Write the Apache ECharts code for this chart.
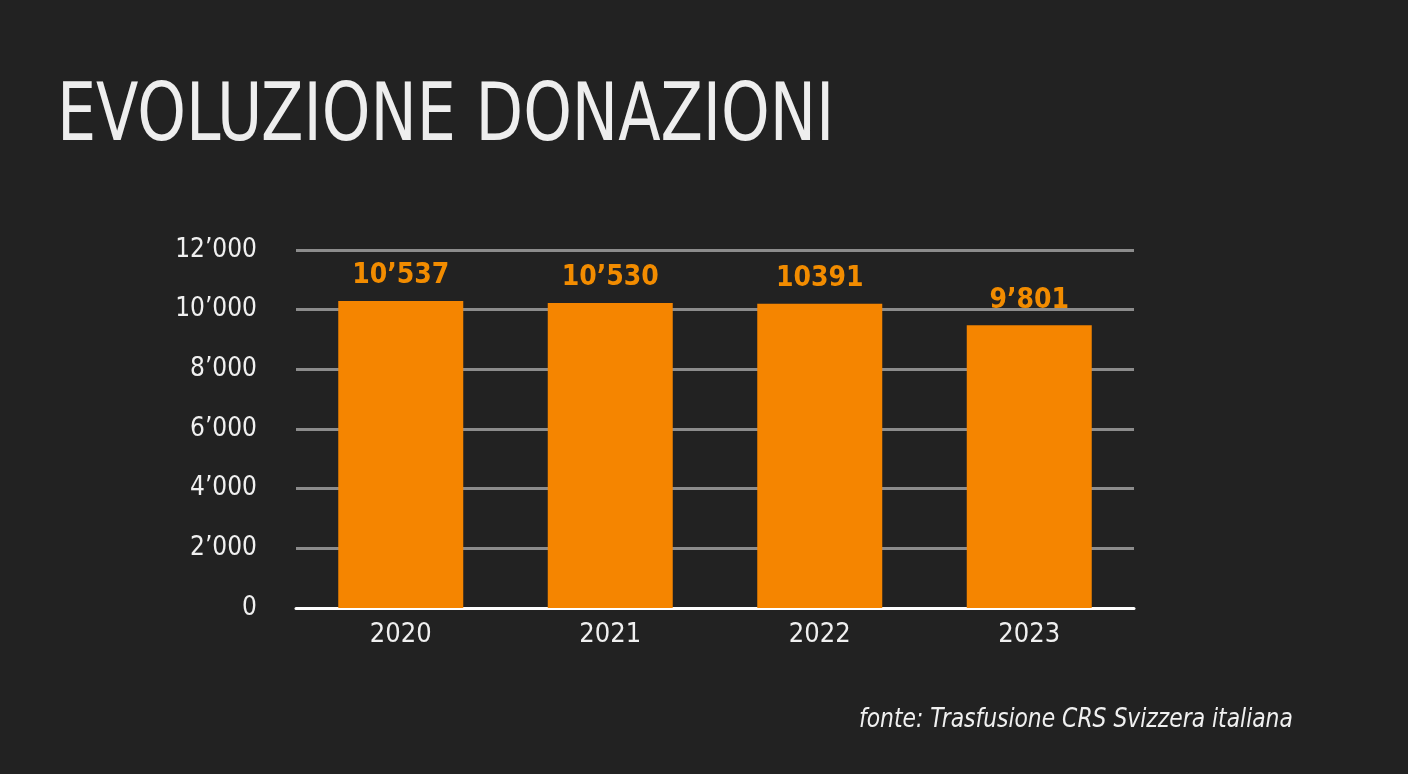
<!DOCTYPE html>
<html><head><meta charset="utf-8">
<script src="https://cdn.jsdelivr.net/npm/echarts@6/dist/echarts.min.js"></script>
<style>html,body{margin:0;padding:0;background:#222222;}#c{width:1408px;height:774px;}</style>
</head><body><div id="c"></div>
<script>
const categories = ['2020', '2021', '2022', '2023'];
const barValues = [10290, 10225, 10200, 9475];
const barLabels = ['10’537', '10’530', '10391', '9’801'];
const yTicks = ['0', '2’000', '4’000', '6’000', '8’000', '10’000', '12’000'];
const titleText = 'EVOLUZIONE DONAZIONI';
const sourceText = 'fonte: Trasfusione CRS Svizzera italiana';

const FONT = '"Liberation Sans Narrow", "DejaVu Sans Condensed", Roboto, sans-serif';
const chart = echarts.init(document.getElementById('c'));
chart.setOption({
  backgroundColor: '#222222',
  animation: false,
  grid: { left: 296, right: 274, top: 250, bottom: 166 },
  xAxis: {
    type: 'category', data: categories,
    axisLine: { lineStyle: { color: '#ffffff', width: 3 } },
    axisTick: { show: false },
    axisLabel: { color: '#f0f0f0', fontSize: 27, fontFamily: FONT, margin: 13 }
  },
  yAxis: {
    type: 'value', min: 0, max: 12000, interval: 2000,
    axisLine: { show: false }, axisTick: { show: false },
    splitLine: { lineStyle: { color: '#8c8c8c', width: 3 } },
    axisLabel: { color: '#f0f0f0', fontSize: 26, fontFamily: FONT, margin: 39,
      formatter: (v) => yTicks[Math.round(v / 2000)] }
  },
  series: [{
    type: 'bar', data: barValues, barWidth: 125,
    itemStyle: { color: '#F58500' },
    label: { show: true, position: 'top', distance: 11, color: '#F28C00',
      fontSize: 28, fontWeight: 'bold', fontFamily: FONT,
      formatter: (p) => barLabels[p.dataIndex] }
  }],
  graphic: [
    { type: 'text', left: 57, top: 79, scaleX: 0.86,
      style: { text: titleText, fill: '#eeeeee', font: '80px ' + FONT } },
    { type: 'text', left: 859, top: 706, scaleX: 0.9,
      style: { text: sourceText, fill: '#f0f0f0', font: 'italic 27px ' + FONT } }
  ]
});
</script></body></html>
